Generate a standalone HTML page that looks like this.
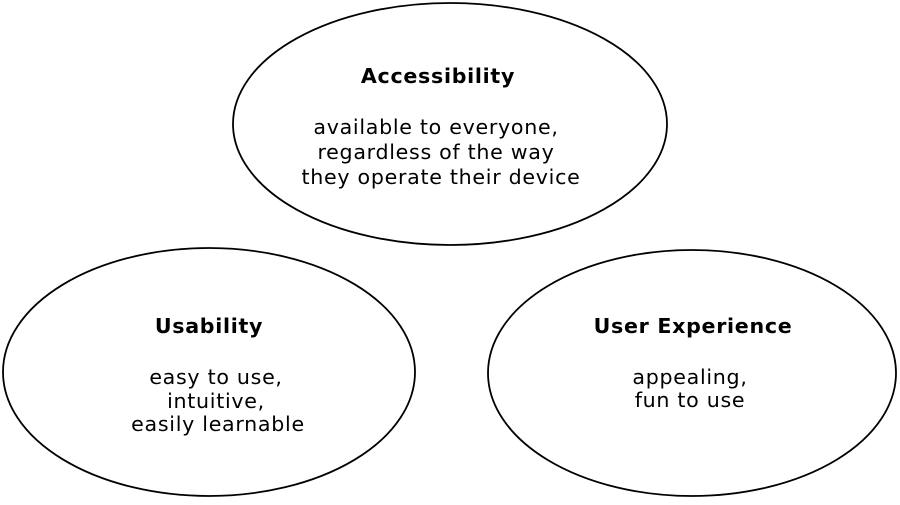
<!DOCTYPE html>
<html><head><style>html,body{margin:0;padding:0;background:#fff;}</style></head>
<body>
<svg width="900" height="500" xmlns="http://www.w3.org/2000/svg" font-family="DejaVu Sans, sans-serif" font-size="20.6" letter-spacing="0.7" fill="#000" text-anchor="middle">
<ellipse cx="450" cy="124" rx="217" ry="121" fill="none" stroke="#000" stroke-width="1.8"/>
<ellipse cx="209" cy="372" rx="206" ry="124" fill="none" stroke="#000" stroke-width="1.8"/>
<ellipse cx="692" cy="373" rx="204" ry="123" fill="none" stroke="#000" stroke-width="1.8"/>
<text x="438" y="83" font-weight="bold">Accessibility</text>
<text x="436" y="134">available to everyone,</text>
<text x="436" y="159">regardless of the way</text>
<text x="441" y="184">they operate their device</text>
<text x="209" y="333" font-weight="bold">Usability</text>
<text x="216" y="384">easy to use,</text>
<text x="216" y="408">intuitive,</text>
<text x="218" y="431">easily learnable</text>
<text x="693" y="333" font-weight="bold">User Experience</text>
<text x="690" y="384">appealing,</text>
<text x="690" y="407">fun to use</text>
</svg>
</body></html>
